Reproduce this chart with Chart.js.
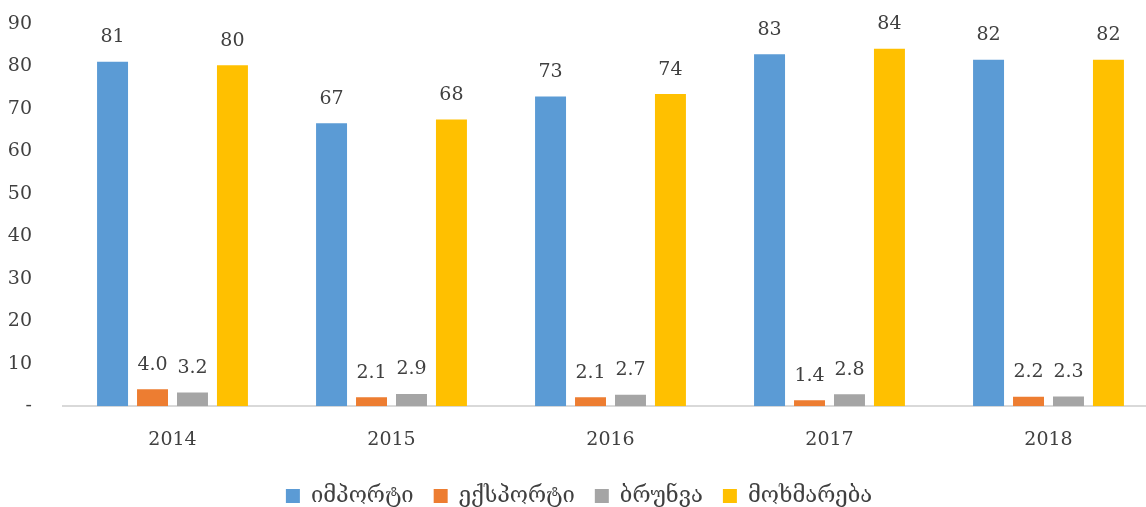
<!DOCTYPE html>
<html>
<head>
<meta charset="utf-8">
<script src="https://cdn.jsdelivr.net/npm/chart.js@4"></script>
<style>
  html, body { margin: 0; padding: 0; background: #fff; overflow: hidden; }
  #wrap { width: 1170px; height: 507px; }
</style>
</head>
<body>
<div id="wrap"><canvas id="myBarChart"></canvas></div>
<script>
// data
const years = ['2014', '2015', '2016', '2017', '2018'];
const importValues = [81.1, 66.6, 72.9, 82.9, 81.6];
const exportValues = [4.0, 2.1, 2.1, 1.4, 2.2];
const turnoverValues = [3.2, 2.9, 2.7, 2.8, 2.3];
const consumptionValues = [80.3, 67.5, 73.5, 84.2, 81.6];
const seriesNames = ['იმპორტი', 'ექსპორტი', 'ბრუნვა', 'მოხმარება'];
const yTicks = [0, 10, 20, 30, 40, 50, 60, 70, 80, 90];

const fontFamily = "'DejaVu Serif', 'Liberation Serif', serif";
const textColor = '#404040';

// labels above each bar, whole numbers for the big ones
const barLabels = {
    id: 'barLabels',
    afterDatasetsDraw(chart) {
        const ctx = chart.ctx;
        ctx.save();
        ctx.font = '19px ' + fontFamily;
        ctx.fillStyle = textColor;
        ctx.textAlign = 'center';
        ctx.textBaseline = 'bottom';
        chart.data.datasets.forEach((ds, i) => {
            chart.getDatasetMeta(i).data.forEach((bar, j) => {
                const v = ds.data[j];
                const txt = v >= 10 ? Math.round(v).toString() : v.toFixed(1);
                ctx.fillText(txt, bar.x, bar.y - 15);
            });
        });
        ctx.restore();
    }
};

const visitorChart = document.getElementById('myBarChart');

new Chart(visitorChart, {
    type: 'bar',
    data: {
        labels: years,
        datasets: [{
            label: seriesNames[0],
            data: importValues,
            backgroundColor: '#5B9BD5'
        }, {
            label: seriesNames[1],
            data: exportValues,
            backgroundColor: '#ED7D31'
        }, {
            label: seriesNames[2],
            data: turnoverValues,
            backgroundColor: '#A5A5A5'
        }, {
            label: seriesNames[3],
            data: consumptionValues,
            backgroundColor: '#FFC000'
        }]
    },
    options: {
        responsive: true,
        maintainAspectRatio: false,
        animation: false,
        datasets: {
            bar: {
                categoryPercentage: 0.73,
                barPercentage: 0.775
            }
        },
        layout: {
            padding: { top: 24, right: 12, left: 0, bottom: -10 }
        },
        scales: {
            y: {
                min: 0,
                max: 90,
                afterBuildTicks(scale) {
                    scale.ticks = yTicks.map(v => ({ value: v }));
                },
                afterFit(scale) {
                    scale.width = 63;
                    scale.paddingTop = 0;
                },
                grid: { display: false },
                border: { display: false },
                ticks: {
                    padding: 23,
                    color: textColor,
                    font: { family: fontFamily, size: 19 },
                    callback: v => v === 0 ? '-' : v
                }
            },
            x: {
                afterFit(scale) {
                    scale.paddingRight = 0;
                },
                grid: { display: false },
                border: { display: true, color: '#D9D9D9', width: 2 },
                ticks: {
                    padding: 14,
                    color: textColor,
                    font: { family: fontFamily, size: 19 }
                }
            }
        },
        plugins: {
            legend: {
                display: true,
                position: 'bottom',
                labels: {
                    boxWidth: 14,
                    boxHeight: 14,
                    padding: 20,
                    color: textColor,
                    font: { family: fontFamily, size: 22 }
                }
            },
            tooltip: { enabled: false }
        }
    },
    plugins: [barLabels]
});
</script>
</body>
</html>
